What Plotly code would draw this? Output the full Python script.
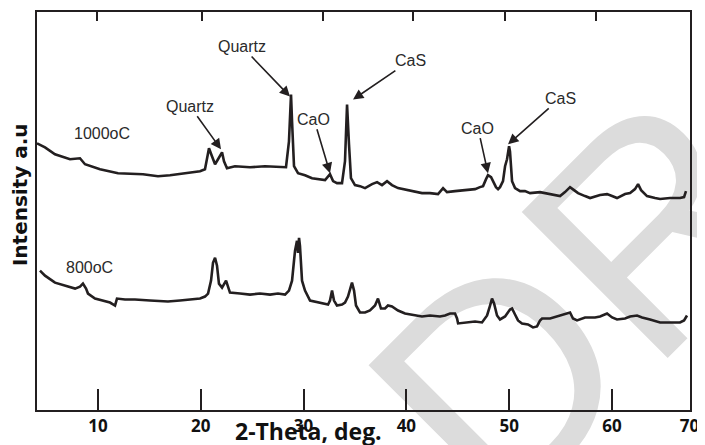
import plotly.graph_objects as go

# ---- data (2-theta in degrees, intensity in arbitrary units) ----
two_theta_1000 = [4.07, 4.85, 5.82, 7.28, 8.25, 8.74, 10.20, 11.95, 14.38, 15.84, 17.01, 18.47, 19.93,
                  20.41, 20.80, 21.09, 21.39, 21.68, 22.07, 22.26, 22.55, 23.33, 24.79, 26.25, 27.71,
                  28.29, 28.58, 28.78, 28.88, 29.07, 29.46, 30.14, 30.82, 31.60, 32.09, 32.57, 32.87,
                  33.25, 33.74, 34.03, 34.23, 34.42, 34.61, 35.00, 35.49, 35.98, 36.66, 37.15, 37.63,
                  38.12, 38.60, 39.19, 40.16, 40.84, 41.52, 42.30, 43.08, 43.57, 43.95, 44.73, 45.71,
                  46.68, 47.16, 47.46, 47.75, 47.94, 48.24, 48.43, 48.72, 48.92, 49.11, 49.40, 49.60,
                  49.79, 49.99, 50.08, 50.28, 50.57, 51.06, 51.54, 52.03, 53.00, 53.98, 54.95, 55.43,
                  55.92, 56.31, 56.70, 57.38, 57.87, 58.84, 59.52, 60.01, 60.49, 61.27, 61.76, 62.24,
                  62.54, 62.83, 63.41, 64.19, 64.68, 65.65, 66.62, 67.01, 67.20]
intensity_1000 = [268, 264, 257, 252, 253, 247, 242, 238, 237, 235, 236, 238, 240,
                  242, 263, 255, 247, 252, 259, 250, 243, 245, 244, 245, 244,
                  244, 270, 317, 290, 245, 238, 236, 233, 232, 231, 237, 230,
                  228, 228, 250, 307, 267, 233, 226, 225, 223, 227, 229, 226,
                  230, 226, 223, 221, 219, 218, 218, 217, 223, 219, 220, 221,
                  222, 224, 225, 232, 236, 234, 230, 224, 222, 224, 230, 245,
                  252, 265, 260, 230, 223, 220, 220, 218, 219, 217, 215, 219,
                  224, 221, 218, 215, 213, 216, 217, 215, 213, 217, 218, 222,
                  227, 221, 215, 213, 212, 213, 213, 214, 220]

two_theta_800 = [4.36, 4.85, 5.82, 6.79, 7.77, 8.25, 8.54, 8.84, 9.03, 9.71, 10.39, 11.17, 11.66,
                 11.85, 12.63, 13.60, 15.06, 16.81, 17.98, 18.95, 19.93, 20.41, 20.71, 21.00, 21.19,
                 21.39, 21.58, 21.77, 22.07, 22.46, 22.65, 22.84, 23.82, 24.79, 25.76, 26.74, 27.51,
                 28.20, 28.58, 28.88, 29.07, 29.17, 29.36, 29.46, 29.56, 29.65, 29.85, 30.14, 30.63,
                 31.11, 31.80, 32.38, 32.57, 32.77, 32.96, 33.25, 33.74, 34.03, 34.32, 34.52, 34.71,
                 34.91, 35.10, 35.49, 35.98, 36.46, 36.95, 37.24, 37.53, 37.92, 38.21, 38.60, 39.19,
                 39.87, 40.55, 41.52, 42.30, 43.27, 43.76, 44.25, 44.73, 44.93, 45.03, 45.71, 46.68,
                 47.36, 47.85, 48.14, 48.33, 48.53, 48.82, 49.11, 49.60, 50.08, 50.28, 50.57, 50.86,
                 51.25, 51.83, 52.32, 52.71, 53.00, 53.20, 53.98, 54.95, 55.43, 55.92, 56.21, 56.60,
                 57.38, 58.35, 58.84, 59.52, 60.01, 60.49, 61.27, 61.76, 62.44, 62.93, 63.70, 64.68,
                 65.65, 66.62, 67.01, 67.30]
intensity_800 = [140, 135, 128, 125, 122, 124, 127, 122, 117, 112, 110, 108, 105,
                 112, 111, 111, 110, 109, 110, 111, 112, 114, 117, 130, 148,
                 153, 145, 127, 123, 130, 125, 118, 117, 116, 117, 116, 117,
                 116, 120, 130, 150, 160, 170, 158, 173, 165, 130, 120, 110,
                 109, 107, 106, 110, 120, 110, 105, 106, 108, 114, 122, 128,
                 120, 105, 98, 98, 100, 105, 112, 102, 102, 105, 104, 100,
                 97, 96, 94, 95, 94, 95, 97, 97, 92, 87, 88, 89,
                 88, 95, 105, 112, 107, 95, 91, 94, 101, 102, 96, 90,
                 87, 86, 83, 84, 90, 92, 92, 95, 96, 98, 92, 90,
                 93, 93, 94, 97, 93, 91, 92, 94, 95, 93, 91, 88,
                 88, 88, 90, 95]

# phase labels: text, arrow head position (2-theta, intensity), text offset (px)
phase_labels = ["Quartz", "Quartz", "CaO", "CaS", "CaO", "CaS"]
phase_x = [28.68, 21.97, 32.57, 34.81, 47.94, 49.89]
phase_y = [315, 262, 238, 312, 238, 267]
phase_ax = [-48, -31, -16, 57, -10, 52]
phase_ay = [-50, -43, -54, -39, -45, -46]

series_labels = ["1000oC", "800oC"]
series_label_x = [10.35, 9.2]
series_label_y = [278, 143]

bottom_tick_vals = [10, 20, 30, 40, 50, 60, 67.55]
bottom_tick_text = ["10", "20", "30", "40", "50", "60", "70"]
top_tick_vals = [9.91, 20.12, 31.89, 40.65, 49.6, 58.45]

x_range = [4.07, 67.59]
y_range = [0, 400]

INK = "#231f20"

fig = go.Figure()
fig.add_trace(go.Scatter(x=two_theta_1000, y=intensity_1000, mode="lines",
                         line=dict(color=INK, width=2.6), hoverinfo="skip", showlegend=False))
fig.add_trace(go.Scatter(x=two_theta_800, y=intensity_800, mode="lines",
                         line=dict(color=INK, width=2.6), hoverinfo="skip", showlegend=False))
# helper trace (outside the visible range) so the top tick axis is drawn
fig.add_trace(go.Scatter(x=x_range, y=[-50, -50], xaxis="x2", yaxis="y", mode="lines",
                         line=dict(width=1, color="rgba(0,0,0,0)"),
                         showlegend=False, hoverinfo="skip"))

annotations = []
for t, x, y, ax, ay in zip(phase_labels, phase_x, phase_y, phase_ax, phase_ay):
    annotations.append(dict(text=t, x=x, y=y, xref="x", yref="y", ax=ax, ay=ay,
                            showarrow=True, arrowhead=2, arrowsize=1.3, arrowwidth=1.6,
                            arrowcolor=INK, standoff=0,
                            font=dict(family="Liberation Sans", size=16, color="#2a2a2a")))
for t, x, y in zip(series_labels, series_label_x, series_label_y):
    annotations.append(dict(text=t, x=x, y=y, xref="x", yref="y", showarrow=False,
                            font=dict(family="Liberation Sans", size=16, color="#2a2a2a")))
annotations.append(dict(text="2-Theta, deg.", xref="paper", yref="paper", x=0.4165, y=-0.053,
                        xanchor="center", yanchor="middle", showarrow=False,
                        font=dict(family="Open Sans", size=23, weight="bold", color="#111")))
annotations.append(dict(text="Intensity a.u", xref="paper", yref="paper", x=-0.026, y=0.54,
                        xanchor="center", yanchor="middle", textangle=-90, showarrow=False,
                        font=dict(family="DejaVu Sans", size=20, weight="bold", color="#111")))

# the page body has an 8px margin: size the figure so that it fits the 705x445 window
fig.update_layout(
    width=697, height=437,
    margin=dict(l=29, r=15, t=2, b=35),
    paper_bgcolor="white", plot_bgcolor="rgba(0,0,0,0)",
    annotations=annotations,
    shapes=[dict(type="rect", xref="paper", yref="paper", x0=1.003, x1=1.203, y0=0.725, y1=0.925,
                 layer="below", line=dict(width=0), fillcolor="rgba(0,0,0,0)",
                 label=dict(text="DRAFT", textangle=-45, textposition="middle center",
                            font=dict(family="Liberation Sans", size=300, color="#dcdcdc")))],
    xaxis=dict(range=x_range, showgrid=False, zeroline=False, showline=True, linecolor=INK,
               linewidth=1.6, mirror=True, ticks="inside", ticklen=21, tickwidth=1.5, tickcolor=INK,
               tickvals=bottom_tick_vals, ticktext=bottom_tick_text,
               tickfont=dict(family="Open Sans", size=17, weight="bold", color="#111")),
    xaxis2=dict(range=x_range, overlaying="x", side="top", anchor="y", showgrid=False,
                zeroline=False, showline=True, linecolor=INK, linewidth=1.6,
                ticks="inside", ticklen=9, tickwidth=1.8,
                tickcolor=INK, tickvals=top_tick_vals, showticklabels=False),
    yaxis=dict(range=y_range, showgrid=False, zeroline=False, showline=True, linecolor=INK,
               linewidth=1.6, mirror=True, ticks="", showticklabels=False),
)

fig.write_html("out.html")
